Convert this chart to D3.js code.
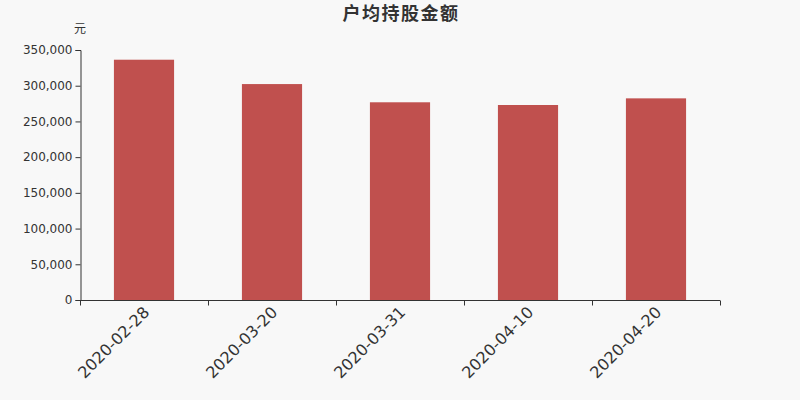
<!DOCTYPE html>
<html><head><meta charset="utf-8">
<script src="https://cdn.jsdelivr.net/npm/d3@7"></script>
<style>body{margin:0;background:#f8f8f8;}svg{display:block;}</style>
</head><body>
<svg id="c" width="800" height="400"></svg>
<script>
const categories = ["2020-02-28","2020-03-20","2020-03-31","2020-04-10","2020-04-20"];
const values = [336400, 302300, 276800, 273000, 282300];
const yTicks = [0,50000,100000,150000,200000,250000,300000,350000];
const title = "户均持股金额";
const unit = "元";

const svg = d3.select("#c");
svg.append("rect").attr("width",800).attr("height",400).attr("fill","#f8f8f8");
const m = {l:80, r:720, t:50, b:300};
const x = d3.scaleBand().domain(categories).range([m.l,m.r]).paddingInner(0.53).paddingOuter(0.265);
const y = d3.scaleLinear().domain([0,350000]).range([m.b,m.t]);

svg.append("g").selectAll("rect").data(values).join("rect")
  .attr("x",(d,i)=>x(categories[i]))
  .attr("y",d=>y(d))
  .attr("width",x.bandwidth())
  .attr("height",d=>y(0)-y(d))
  .attr("fill","#c0504e");

const fmt = d3.format(",");
const ya = svg.append("g").attr("transform",`translate(${m.l+0.5},0)`)
  .call(d3.axisLeft(y).tickValues(yTicks).tickFormat(fmt).tickSize(5).tickPadding(3));
ya.select(".domain").attr("stroke","#333");
ya.selectAll(".tick line").attr("stroke","#333");
ya.selectAll("text").attr("fill","#333").style("font-family","DejaVu Sans").style("font-size","12px");

const xs = d3.scalePoint().domain(d3.range(categories.length+1)).range([m.l,m.r]);
const xa = svg.append("g").attr("transform",`translate(0,${m.b+0.5})`);
xa.append("line").attr("x1",m.l).attr("x2",m.r).attr("stroke","#333");
xa.selectAll("line.t").data(d3.range(categories.length+1)).join("line").attr("class","t")
  .attr("x1",d=>Math.round(xs(d))+0.5).attr("x2",d=>Math.round(xs(d))+0.5).attr("y1",0).attr("y2",5).attr("stroke","#333");
xa.selectAll("text").data(categories).join("text")
  .attr("transform",d=>`translate(${x(d)+x.bandwidth()/2-1.5},${5}) rotate(-45)`)
  .attr("text-anchor","end").attr("dy","0.7em")
  .attr("fill","#333").style("font-family","DejaVu Sans").style("font-size","16px")
  .text(d=>d);

svg.append("text").attr("x",401).attr("y",20).attr("text-anchor","middle")
  .attr("fill","#333").style("font-family","Noto Sans CJK SC").style("font-weight","bold").style("font-size","18px")
  .style("letter-spacing","1.5px").text(title);
svg.append("text").attr("x",80).attr("y",33).attr("text-anchor","middle")
  .attr("fill","#333").style("font-family","Noto Sans CJK SC").style("font-size","12px").text(unit);
</script>
</body></html>
